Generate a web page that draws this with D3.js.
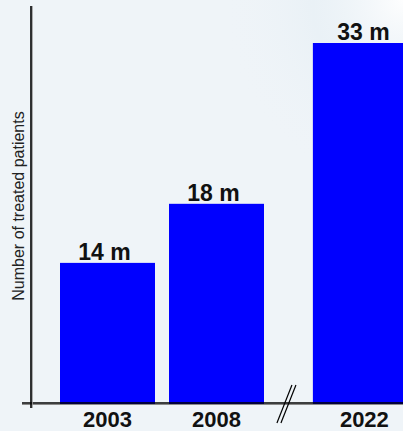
<!DOCTYPE html>
<html>
<head>
<meta charset="utf-8">
<script src="https://cdn.jsdelivr.net/npm/d3@7/dist/d3.min.js"></script>
<style>
  html, body { margin: 0; padding: 0; background: #eff4f8; }
  svg { display: block; }
</style>
</head>
<body>
<svg id="chart" width="403" height="431"></svg>
<script>
// ---- data ----
const categories = ["2003", "2008", "2022"];
const values = [12.9, 18.3, 33];          // bar heights as drawn (millions)
const valueLabels = ["14 m", "18 m", "33 m"];
const yAxisTitle = "Number of treated patients";

// ---- layout ----
const W = 403, H = 431;
const svg = d3.select("#chart");

const defs = svg.append("defs");
const rg = defs.append("radialGradient").attr("id", "glow")
  .attr("cx", "100%").attr("cy", "0%").attr("r", "45%");
rg.append("stop").attr("offset", "0%").attr("stop-color", "#ffffff").attr("stop-opacity", 0.9);
rg.append("stop").attr("offset", "50%").attr("stop-color", "#e4eef4").attr("stop-opacity", 0.5);
rg.append("stop").attr("offset", "100%").attr("stop-color", "#eff4f8").attr("stop-opacity", 0);

svg.append("rect").attr("width", W).attr("height", H).attr("fill", "#eff4f8");
svg.append("rect").attr("width", W).attr("height", H).attr("fill", "url(#glow)");

const baseY = 404;
const y = d3.scaleLinear().domain([0, 33]).range([baseY, 43]);

// slot positions: axis break inserts an extra gap before the last bar
const breakGap = 0.32;
const slot = i => (i < 2 ? i : i + breakGap);
const x = d3.scaleLinear().domain([0, 1]).range([60, 169]);
const bw = 95;

// bars
svg.append("g").selectAll("rect")
  .data(values)
  .join("rect")
  .attr("x", (d, i) => x(slot(i)))
  .attr("y", d => y(d))
  .attr("width", bw)
  .attr("height", d => baseY - y(d))
  .attr("fill", "#0000ff");

// value labels
svg.append("g").selectAll("text")
  .data(values)
  .join("text")
  .attr("x", (d, i) => x(slot(i)) + bw / 2 - (i < 2 ? 3 : -3))
  .attr("y", d => y(d) - 3)
  .attr("text-anchor", "middle")
  .attr("font-family", "'Liberation Sans', Arial, sans-serif")
  .attr("font-weight", "bold")
  .attr("font-size", 23)
  .attr("fill", "#111")
  .text((d, i) => valueLabels[i]);

// axes
const ax = svg.append("g");
ax.append("line").attr("x1", 22).attr("x2", W).attr("y1", 404.5).attr("y2", 404.5)
  .attr("stroke", "#8a8a8a").attr("stroke-width", 1);
ax.append("line").attr("x1", 22).attr("x2", W).attr("y1", 403).attr("y2", 403)
  .attr("stroke", "#000").attr("stroke-width", 1.6);
ax.append("line").attr("x1", 32.3).attr("x2", 32.3).attr("y1", 6).attr("y2", 408)
  .attr("stroke", "#9a9a9a").attr("stroke-width", 1);
ax.append("line").attr("x1", 31).attr("x2", 31).attr("y1", 6).attr("y2", 408)
  .attr("stroke", "#000").attr("stroke-width", 1.6);

// break marks
const bx = (x(slot(1)) + bw + x(slot(2))) / 2 - 2;
[-2, 2].forEach(off => {
  svg.append("line")
    .attr("x1", bx + off - 7.5).attr("y1", 423)
    .attr("x2", bx + off + 7.5).attr("y2", 385)
    .attr("stroke", "#000").attr("stroke-width", 1.2);
});

// category labels
svg.append("g").selectAll("text")
  .data(categories)
  .join("text")
  .attr("x", (d, i) => x(slot(i)) + bw / 2 + (i < 2 ? 0 : 4))
  .attr("y", 427)
  .attr("text-anchor", "middle")
  .attr("font-family", "'Liberation Sans', Arial, sans-serif")
  .attr("font-weight", "bold")
  .attr("font-size", 22)
  .attr("fill", "#111")
  .text(d => d);

// y axis title
svg.append("text")
  .attr("transform", "translate(24,206) rotate(-90)")
  .attr("text-anchor", "middle")
  .attr("font-family", "'Liberation Sans', Arial, sans-serif")
  .attr("font-size", 16)
  .attr("fill", "#222")
  .text(yAxisTitle);
</script>
</body>
</html>
